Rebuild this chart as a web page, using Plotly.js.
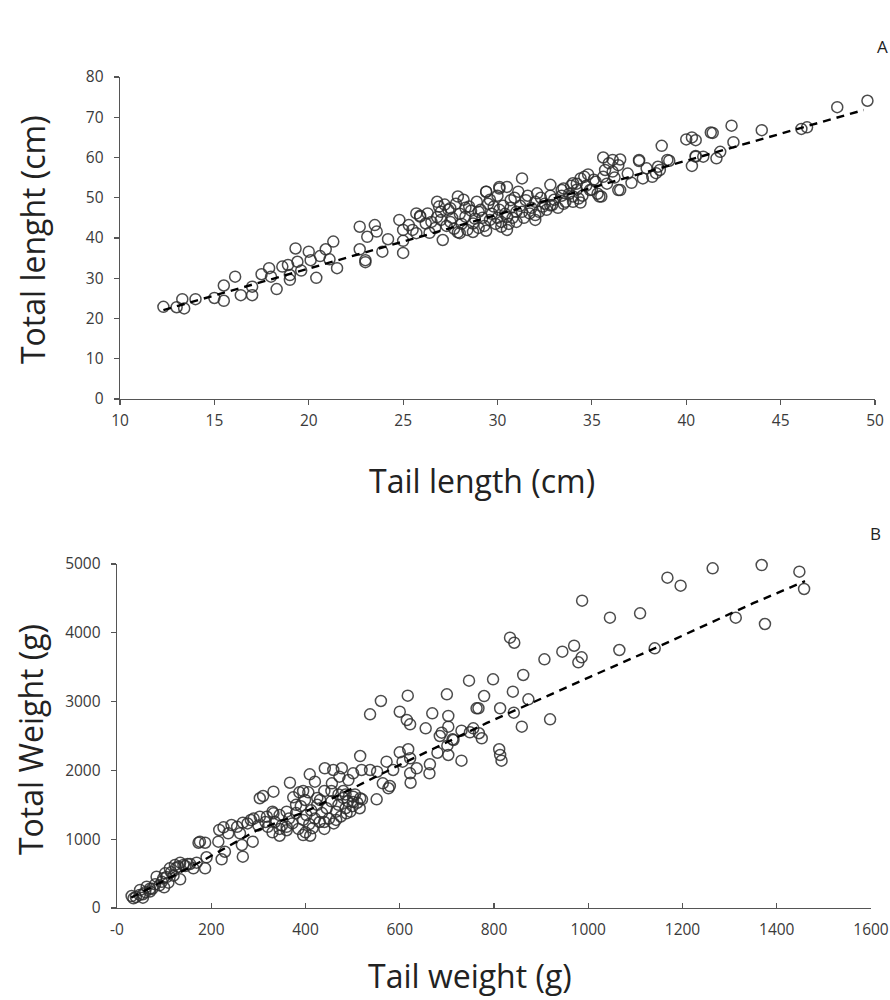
<!DOCTYPE html>
<html>
<head>
<meta charset="utf-8">
<script src="https://cdn.plot.ly/plotly-3.0.1.min.js"></script>
<style>html,body{margin:0;padding:0;background:#fff;}#chart{width:890px;height:1000px;}</style>
</head>
<body>
<div id="chart"></div>
<script>
// Panel A: tail length (cm) vs total length (cm)
const tailLenA = [
 12.3,13.0,13.3,13.4,14.0,15.0,15.5,15.5,16.1,16.4,17.0,17.0,17.5,17.9,18.0,18.3,18.6,18.9,19.0,19.0,
 19.3,19.4,19.6,20.0,20.1,20.4,20.6,20.9,21.1,21.3,21.5,22.7,22.7,23.0,23.0,23.1,23.5,23.6,23.9,24.2,
 24.8,25.0,25.0,25.0,25.3,25.7,25.7,25.9,26.2,26.4,26.9,27.1,27.4,27.9,27.9,
 25.5,25.9,26.3,26.8,27.0,27.5,28.0,28.3,28.5,28.7,29.0,29.4,29.6,29.8,30.1,30.2,30.5,30.7,31.0,31.5,
 31.7,32.0,32.1,32.4,32.9,33.4,33.6,34.0,34.3,34.6,34.9,35.4,35.7,36.1,36.4,
 26.5,26.7,27.0,27.2,27.3,27.6,27.7,27.8,28.0,28.1,28.2,28.4,28.6,28.8,28.9,29.0,29.1,29.2,29.3,29.5,
 29.7,29.9,30.0,30.0,30.1,30.2,30.3,30.4,30.6,30.7,30.8,30.9,31.0,31.2,31.3,31.4,31.6,31.8,32.0,32.2,
 32.3,32.5,32.6,32.8,33.0,33.2,33.4,33.5,33.8,34.0,34.2,34.5,34.7,35.0,35.2,35.3,35.8,36.2,28.3,29.6,
 27.5,26.8,31.1,29.4,28.7,30.5,
 49.6,48.0,46.4,46.1,44.0,42.4,42.5,41.4,41.8,41.6,40.9,40.5,40.3,40.5,40.0,40.3,39.1,38.7,38.6,38.2,
 38.5,37.7,37.9,37.5,37.1,36.9,36.5,36.4,36.1,36.5,35.6,35.9,35.5,35.6,35.1,34.8,34.4,34.2,34.4,34.0,
 33.9,33.5,32.8,32.8,31.3,30.1,30.5,29.4,32.0,39.0,38.4,37.5,40.5,41.3
];
const totalLenA = [
 22.9,22.8,24.8,22.5,24.8,25.1,24.4,28.2,30.4,25.8,27.9,25.8,31.0,32.5,30.4,27.3,32.9,33.3,30.8,29.6,
 37.4,34.1,31.9,36.6,34.5,30.1,35.5,37.2,34.7,39.1,32.5,42.8,37.2,34.5,34.0,40.3,43.2,41.6,36.6,39.7,
 44.5,42.0,39.3,36.3,43.2,41.2,46.1,45.5,43.6,41.3,47.8,39.5,47.0,50.3,41.4,
 42.0,45.3,46.1,49.0,44.5,47.4,41.2,45.3,47.8,43.6,46.5,51.5,44.5,47.8,52.3,42.8,45.3,49.4,46.5,49.4,
 46.1,44.5,51.1,47.8,48.2,51.9,49.0,53.6,49.8,55.2,51.9,50.3,56.9,59.4,51.9,
 44.0,42.5,46.5,48.3,43.0,45.0,42.3,48.5,46.0,43.5,49.5,42.0,46.8,44.8,49.0,42.5,47.0,45.0,43.0,48.5,
 46.0,43.5,50.5,45.0,47.0,44.0,48.0,46.0,43.5,47.5,45.0,50.0,44.0,48.0,46.5,45.0,50.5,47.5,49.0,46.5,
 50.0,48.5,47.0,50.5,49.5,47.5,50.5,48.5,51.0,49.0,52.0,50.5,53.0,52.0,54.0,51.0,53.5,55.0,47.5,49.5,
 44.0,45.2,51.5,41.8,41.5,42.0,
 74.1,72.5,67.5,67.1,66.8,67.9,63.8,66.1,61.4,59.8,60.2,60.2,57.9,64.3,64.5,65.0,59.2,62.9,56.9,55.2,
 57.7,54.8,57.3,59.1,53.7,56.0,59.5,58.1,56.5,51.9,60.0,58.6,50.3,55.2,54.5,55.8,54.8,53.5,48.8,50.3,
 53.0,52.3,53.2,48.1,54.8,52.7,52.7,51.5,45.7,59.4,56.1,59.4,60.4,66.2
];
// Trend line A
const trendAX = [12.3, 30.0, 49.4];
const trendAY = [22.1, 45.8, 71.8];

// Panel B: tail weight (g) vs total weight (g)
const tailWtB = [
 1448,1458,1368,1375,1264,1313,1168,1196,1110,1046,1066,1141,987,970,986,979,945,907,834,843,
 862,840,873,798,747,779,700,703,767,813,842,859,919,703,731,756,749,774,768,685,
 714,703,731,811,813,816,
 617,560,537,600,615,622,669,655,712,689,763,701,680,664,663,618,600,622,622,623,
 636,606,586,572,576,564,579,551,552,537,516,519,501,477,459,441,409,420,406,387,
 367,332,310,303,374,399,431,456,472,491,501,516,487,501,284,267,243,226,217,236,
 173,187,215,261,288,265,267,222,229,190,187,169,162,134,123,141,112,102,134,109,
 98,84,81,63,49,31,40,48,55,35,70,90,150,303,318,332,
 320,330,335,345,350,360,365,372,380,385,390,395,400,402,408,412,415,420,425,430,
 435,440,445,450,455,460,465,470,475,480,485,490,495,500,505,510,515,520,455,470,
 440,425,395,380,360,345,330,315,300,290,277,255,345,410,395,465,485,480,440,360,
 60,75,95,105,115,125,130,145,155,120,100,70,55,176
];
const totalWtB = [
 4889,4637,4985,4128,4937,4220,4801,4685,4283,4220,3750,3774,4467,3812,3643,3571,3726,3614,3929,3856,
 3387,3144,3033,3324,3304,3081,3106,2791,2903,2903,2839,2636,2742,2636,2578,2611,2554,2467,2540,2500,
 2442,2224,2141,2307,2224,2141,
 3086,3009,2815,2853,2733,2670,2830,2611,2452,2548,2902,2359,2257,2089,1957,2307,2263,2176,1957,1821,
 2031,2127,2006,2127,1740,1812,1773,1580,1981,2006,2209,2006,1957,2031,2006,2031,1943,1836,1681,1681,
 1821,1691,1628,1595,1609,1570,1570,1812,1909,1860,1618,1594,1376,1540,1279,1240,1206,1173,1134,1085,
 949,949,964,1085,964,916,746,708,818,737,577,659,577,659,625,625,577,504,417,368,
 431,455,344,310,262,174,160,190,150,140,280,330,640,1327,1327,1376,
 1180,1100,1250,1050,1200,1130,1300,1230,1380,1150,1480,1280,1100,1350,1220,1420,1160,1300,1500,1250,
 1380,1150,1450,1300,1550,1230,1400,1500,1330,1600,1450,1550,1400,1480,1650,1530,1450,1580,1700,1650,
 1700,1600,1700,1500,1400,1350,1400,1250,1200,1300,1230,1180,1150,1050,1060,1280,1650,1700,1250,1180,
 230,280,380,450,520,580,600,610,640,470,300,240,200,964
];
// Trend line B
const trendBX = [30, 185, 297, 400, 600, 785, 1004, 1146, 1350, 1460];
const trendBY = [150, 700, 1130, 1400, 2080, 2690, 3360, 3790, 4430, 4750];

// Tick labels
const xTicksA = [10, 15, 20, 25, 30, 35, 40, 45, 50];
const yTicksA = [0, 10, 20, 30, 40, 50, 60, 70, 80];
const xTicksB = [0, 200, 400, 600, 800, 1000, 1200, 1400, 1600];
const xTickTextB = ['-0', '200', '400', '600', '800', '1000', '1200', '1400', '1600'];
const yTicksB = [0, 1000, 2000, 3000, 4000, 5000];

const markerStyle = {symbol: 'circle-open', size: 11, color: 'rgba(45,45,45,0.85)', line: {width: 1.5, color: 'rgba(45,45,45,0.85)'}};
const trendStyle = {color: '#000', width: 2.4, dash: '8px,6px'};

const traces = [
  {x: tailLenA, y: totalLenA, type: 'scatter', mode: 'markers', marker: markerStyle, xaxis: 'x', yaxis: 'y', cliponaxis: false, hoverinfo: 'x+y'},
  {x: trendAX, y: trendAY, type: 'scatter', mode: 'lines', line: trendStyle, xaxis: 'x', yaxis: 'y', hoverinfo: 'skip'},
  {x: tailWtB, y: totalWtB, type: 'scatter', mode: 'markers', marker: markerStyle, xaxis: 'x2', yaxis: 'y2', cliponaxis: false, hoverinfo: 'x+y'},
  {x: trendBX, y: trendBY, type: 'scatter', mode: 'lines', line: trendStyle, xaxis: 'x2', yaxis: 'y2', hoverinfo: 'skip'}
];

const fontFam = '"Open Sans", "Noto Sans", sans-serif';
const axisBase = {
  showgrid: false, zeroline: false, showline: true, linecolor: '#555', linewidth: 1.3,
  ticks: 'outside', ticklen: 5, tickwidth: 1.2, tickcolor: '#555',
  tickfont: {family: fontFam, size: 15.5, color: '#3a3a3a'}, fixedrange: true
};

const titleFont = {family: fontFam, size: 32, color: '#222'};

const layout = {
  width: 890, height: 1000,
  margin: {l: 0, r: 0, t: 0, b: 0},
  paper_bgcolor: '#fff', plot_bgcolor: '#fff',
  showlegend: false,
  font: {family: fontFam, color: '#222'},
  xaxis: Object.assign({}, axisBase, {domain: [120/890, 875/890], range: [10, 50], tickvals: xTicksA, anchor: 'y', ticklabelstandoff: 2}),
  yaxis: Object.assign({}, axisBase, {domain: [0.601, 0.923], range: [0, 80], tickvals: yTicksA, anchor: 'x', ticklabelstandoff: 7}),
  xaxis2: Object.assign({}, axisBase, {domain: [117/890, 871/890], range: [0, 1600], tickvals: xTicksB, ticktext: xTickTextB, anchor: 'y2', ticks: 'inside', ticklabelstandoff: 7}),
  yaxis2: Object.assign({}, axisBase, {domain: [0.092, 0.436], range: [0, 5000], tickvals: yTicksB, anchor: 'x2', ticklabelstandoff: 7}),
  annotations: [
    {text: 'Tail length (cm)', xref: 'paper', yref: 'paper', x: 482/890, y: 1 - 480/1000, showarrow: false, xanchor: 'center', yanchor: 'middle', font: titleFont},
    {text: 'Total lenght (cm)', xref: 'paper', yref: 'paper', x: 32/890, y: 1 - 240/1000, showarrow: false, textangle: -90, xanchor: 'center', yanchor: 'middle', font: titleFont},
    {text: 'Tail weight (g)', xref: 'paper', yref: 'paper', x: 470/890, y: 1 - 975/1000, showarrow: false, xanchor: 'center', yanchor: 'middle', font: titleFont},
    {text: 'Total Weight (g)', xref: 'paper', yref: 'paper', x: 30/890, y: 1 - 740/1000, showarrow: false, textangle: -90, xanchor: 'center', yanchor: 'middle', font: titleFont},
    {text: 'A', xref: 'paper', yref: 'paper', x: 882/890, y: 1 - 46/1000, showarrow: false, xanchor: 'center', yanchor: 'middle', font: {family: fontFam, size: 17, color: '#222'}},
    {text: 'B', xref: 'paper', yref: 'paper', x: 875/890, y: 1 - 533/1000, showarrow: false, xanchor: 'center', yanchor: 'middle', font: {family: fontFam, size: 17, color: '#222'}}
  ]
};

Plotly.newPlot('chart', traces, layout, {staticPlot: true, displayModeBar: false});
</script>
</body>
</html>
